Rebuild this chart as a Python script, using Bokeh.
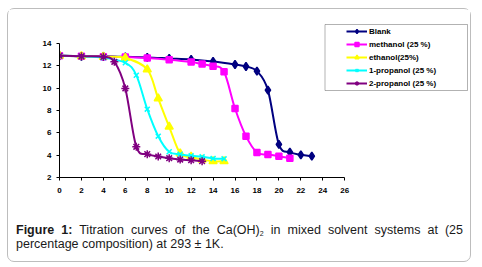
import numpy as np
from bokeh.plotting import figure
from bokeh.models import (Range1d, FixedTicker, Legend, LegendItem, Label,
                          BoxAnnotation, ColumnDataSource, Div)
from bokeh.layouts import column
from bokeh.embed import file_html
from bokeh.resources import INLINE

# ---------------- data ----------------
series_names = ["Blank", "methanol (25 %)", "ethanol(25%)", "1-propanol (25 %)", "2-propanol (25 %)"]

vol_blank = [0, 2, 4, 6, 8, 10, 12, 14, 16, 17, 18, 19, 20, 21, 22, 23]
ph_blank = [12.9, 12.85, 12.85, 12.8, 12.75, 12.66, 12.57, 12.39, 12.12, 11.94, 11.52, 9.82, 4.96, 4.27, 4.03, 3.91]

vol_methanol = [0, 2, 4, 6, 8, 10, 12, 13, 14, 15, 16, 17, 18, 19, 20, 21]
ph_methanol = [12.9, 12.85, 12.82, 12.78, 12.69, 12.54, 12.33, 12.15, 11.97, 11.46, 8.18, 5.70, 4.24, 4.06, 3.91, 3.73]

vol_ethanol = [0, 2, 4, 6, 8, 9, 10, 11, 12, 13, 14, 15]
ph_ethanol = [12.9, 12.85, 12.8, 12.7, 11.67, 9.07, 6.54, 4.15, 3.85, 3.6, 3.45, 3.45]

vol_propanol1 = [0, 2, 4, 6, 7, 8, 9, 10, 11, 12, 13, 14, 15]
ph_propanol1 = [12.9, 12.85, 12.72, 12.27, 11.16, 8.12, 5.70, 4.30, 4.09, 3.94, 3.85, 3.70, 3.67]

vol_propanol2 = [0, 2, 4, 5, 6, 7, 8, 9, 10, 11, 12, 13]
ph_propanol2 = [12.9, 12.85, 12.8, 12.36, 9.97, 4.75, 4.09, 3.88, 3.73, 3.61, 3.55, 3.46]

x_ticks = list(range(0, 27, 2))
y_ticks = list(range(2, 15, 2))

# ---------------- styling ----------------
colors = ["#000080", "#FF00FF", "#FFFF00", "#00FFFF", "#800080"]
markers = ["diamond", "square", "triangle", "x", "asterisk"]
msizes = [8, 6, 8, 7, 8]
FONT = "Liberation Sans"

# page geometry (px)
FIG_X0, FIG_Y0 = 8, 9
W, H = 462, 210
FRAME_L, FRAME_T, FRAME_R, FRAME_B = 59, 20, 468, 177
PX_X, PX_Y = 10.97, 11.17


def px_to_x(px):
    return (px - FRAME_L) / PX_X


def px_to_y(py):
    return 2 + (FRAME_B - py) / PX_Y


p = figure(width=W, height=H, output_backend="svg", toolbar_location=None,
           x_range=Range1d(0, px_to_x(FRAME_R)), y_range=Range1d(2, px_to_y(FRAME_T)),
           min_border_left=FRAME_L - FIG_X0, min_border_right=FIG_X0 + W - FRAME_R,
           min_border_top=FRAME_T - FIG_Y0, min_border_bottom=FIG_Y0 + H - FRAME_B)
p.outline_line_color = None
p.xgrid.visible = False
p.ygrid.visible = False
p.background_fill_color = "white"
p.border_fill_color = "white"

for ax, ticks, bounds in ((p.xaxis[0], x_ticks, (0, 26)), (p.yaxis[0], y_ticks, (2, 14))):
    ax.ticker = FixedTicker(ticks=ticks)
    ax.bounds = bounds
    ax.axis_line_color = "black"
    ax.axis_line_width = 1
    ax.major_tick_line_color = "black"
    ax.major_tick_in = 0
    ax.major_tick_out = 3
    ax.minor_tick_line_color = None
    ax.major_label_text_font = FONT
    ax.major_label_text_font_style = "bold"
    ax.major_label_text_font_size = "8px"
    ax.major_label_text_color = "black"
p.xaxis[0].major_label_standoff = 7
p.yaxis[0].major_label_standoff = 5


def bezier_controls(xs, ys):
    xs = np.asarray(xs, float)
    ys = np.asarray(ys, float)
    n = len(xs)
    x0, y0, x1, y1, cx0, cy0, cx1, cy1 = ([] for _ in range(8))
    for i in range(n - 1):
        im = max(i - 1, 0)
        ip2 = min(i + 2, n - 1)
        x0.append(xs[i]); y0.append(ys[i])
        x1.append(xs[i + 1]); y1.append(ys[i + 1])
        cx0.append(xs[i] + (xs[i + 1] - xs[im]) / 6)
        cy0.append(ys[i] + (ys[i + 1] - ys[im]) / 6)
        cx1.append(xs[i + 1] - (xs[ip2] - xs[i]) / 6)
        cy1.append(ys[i + 1] - (ys[ip2] - ys[i]) / 6)
    return dict(x0=x0, y0=y0, x1=x1, y1=y1, cx0=cx0, cy0=cy0, cx1=cx1, cy1=cy1)


all_vol = [vol_blank, vol_methanol, vol_ethanol, vol_propanol1, vol_propanol2]
all_ph = [ph_blank, ph_methanol, ph_ethanol, ph_propanol1, ph_propanol2]

items = []
for name, vx, vy, c, m, s in zip(series_names, all_vol, all_ph, colors, markers, msizes):
    src_b = ColumnDataSource(bezier_controls(vx, vy))
    lr = p.bezier(x0="x0", y0="y0", x1="x1", y1="y1", cx0="cx0", cy0="cy0",
                  cx1="cx1", cy1="cy1", source=src_b, line_color=c, line_width=2)
    src_p = ColumnDataSource(dict(x=vx, y=vy))
    sr = p.scatter(x="x", y="y", source=src_p, marker=m, size=s,
                   fill_color=c, line_color=c, line_width=1.5)
    items.append(LegendItem(label=name, renderers=[lr, sr]))

legend = Legend(items=items, location=(287, 89), padding=0, margin=0, spacing=3,
                glyph_height=10, glyph_width=21, label_standoff=2, label_height=10,
                border_line_alpha=0, background_fill_alpha=0,
                label_text_font=FONT, label_text_font_style="bold",
                label_text_font_size="8px", label_text_color="black")
p.add_layout(legend)

p.add_layout(BoxAnnotation(left=px_to_x(324.5), right=px_to_x(467), top=px_to_y(24),
                           bottom=px_to_y(90), fill_alpha=0, line_color="black",
                           line_width=1))

p.add_layout(Label(x=px_to_x(218.7), y=px_to_y(205), text="Volume of HCl (ml)",
                   text_align="center", text_baseline="middle", text_font=FONT,
                   text_font_style="bold", text_font_size="8px", text_color="black"))
p.add_layout(Label(x=px_to_x(23), y=px_to_y(110), text="pH", angle=np.pi / 2,
                   text_align="center", text_baseline="middle", text_font=FONT,
                   text_font_style="bold", text_font_size="8px", text_color="black"))

caption_html = (
    '<div style="width:447px;text-align:justify;text-align-last:justify">'
    '<b>Figure 1:</b> <span>Titration curves of the Ca(OH)</span>'
    '<sub style="font-size:7px;line-height:0;vertical-align:-2px">2</sub>'
    '<span> in mixed solvent systems at (25</span></div>'
    '<div style="width:447px">percentage composition) at 293 ± 1K.</div>'
)
caption = Div(
    text=caption_html, width=447, margin=(4, 0, 10, 8),
    styles={"font-family": "'Liberation Sans', Arial, sans-serif", "font-size": "12.5px",
            "line-height": "14px", "color": "#1a1a1a"})

layout = column(p, caption, margin=(8, 0, 0, 7),
                styles={"border": "1px solid #bdbdbd", "border-radius": "7px",
                        "background": "white"})

open("out.html", "w").write(file_html(layout, INLINE))
